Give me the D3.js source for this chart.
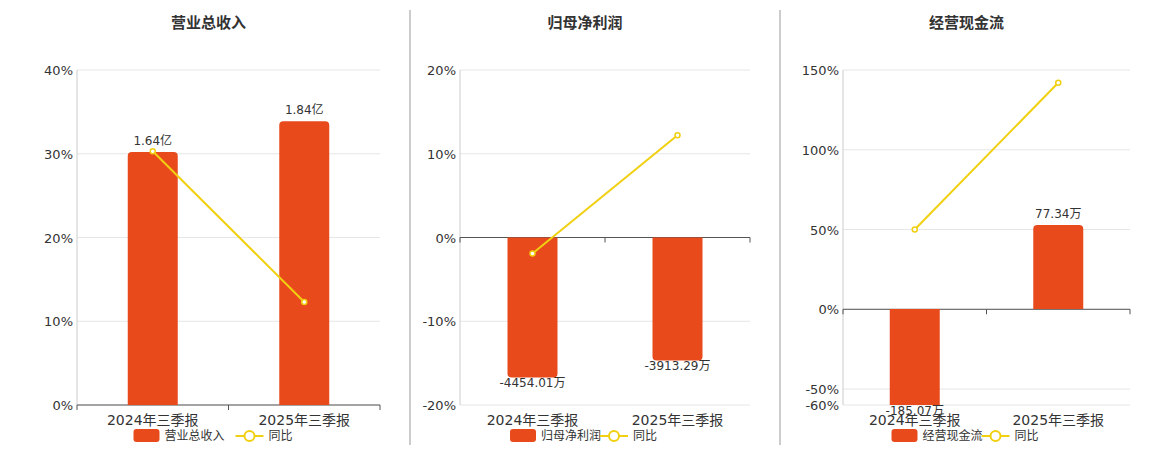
<!DOCTYPE html>
<html><head><meta charset="utf-8">
<script src="https://cdn.jsdelivr.net/npm/d3@7"></script>
<style>body{margin:0;background:#fff;font-family:"DejaVu Sans","Noto Sans CJK SC",sans-serif}</style>
</head><body><svg id="c" width="1160" height="450"></svg>
<script>
const categories = ["2024年三季报", "2025年三季报"];
const titles = ["营业总收入", "归母净利润", "经营现金流"];
const barNames = ["营业总收入", "归母净利润", "经营现金流"];
const revenue = [1.64, 1.84];
const revenueLabels = ["1.64亿", "1.84亿"];
const profit = [-4454.01, -3913.29];
const profitLabels = ["-4454.01万", "-3913.29万"];
const cash = [-185.07, 77.34];
const cashLabels = ["-185.07万", "77.34万"];
const yoyRevenue = [30.3, 12.3];
const yoyProfit = [-1.9, 12.2];
const yoyCash = [50, 142];
const ticks1 = [0, 10, 20, 30, 40];
const ticks2 = [-20, -10, 0, 10, 20];
const ticks3 = [-60, -50, 0, 50, 100, 150];

const panels = [
  {x0:77,x1:380,pct:[0,40],ticks:ticks1,bars:revenue,bl:revenueLabels,bd:[0,2.172],yoy:yoyRevenue},
  {x0:460,x1:750,pct:[-20,20],ticks:ticks2,bars:profit,bl:profitLabels,bd:[-5333,5333],yoy:yoyProfit},
  {x0:843,x1:1130,pct:[-60,150],ticks:ticks3,bars:cash,bl:cashLabels,bd:[-77.34*96/84,77.34*239/84],yoy:yoyCash}
];
const svg = d3.select("#c");
const yTop=70,yBot=405,barC="#e84a1c",lineC="#f0d010";
[410,780].forEach(x=>svg.append("line").attr("x1",x).attr("x2",x).attr("y1",10).attr("y2",445).attr("stroke","#999"));
panels.forEach((p,i)=>{
  const g=svg.append("g");
  const x=d3.scaleBand().domain(categories).range([p.x0,p.x1]);
  const y=d3.scaleLinear().domain(p.pct).range([yBot,yTop]);
  const yb=d3.scaleLinear().domain(p.bd).range([yBot,yTop]);
  const cx=(p.x0+p.x1)/2;
  g.append("text").attr("x",cx-20).attr("y",28).attr("text-anchor","middle").attr("font-size",15).attr("font-weight","bold").attr("fill","#333").text(titles[i]);
  p.ticks.forEach(t=>{
    g.append("line").attr("x1",p.x0).attr("x2",p.x1).attr("y1",y(t)).attr("y2",y(t)).attr("stroke","#e6e6e6");
    g.append("text").attr("x",p.x0-4).attr("y",y(t)+5).attr("text-anchor","end").attr("font-size",13).attr("fill","#333").text(t+"%");
  });
  g.append("line").attr("x1",p.x0).attr("x2",p.x0).attr("y1",yTop).attr("y2",yBot).attr("stroke","#ccc");
  const z=y(Math.max(0,p.pct[0]));
  g.append("line").attr("x1",p.x0).attr("x2",p.x1).attr("y1",z).attr("y2",z).attr("stroke","#555");
  [p.x0,cx,p.x1].forEach(t=>g.append("line").attr("x1",t).attr("x2",t).attr("y1",z).attr("y2",z+5).attr("stroke","#555"));
  categories.forEach(c=>g.append("text").attr("x",x(c)+x.bandwidth()/2).attr("y",425).attr("text-anchor","middle").attr("font-size",14).attr("fill","#333").text(c));
  const clip="clip"+i;
  svg.append("clipPath").attr("id",clip).append("rect").attr("x",p.x0).attr("y",yTop).attr("width",p.x1-p.x0).attr("height",yBot-yTop);
  const bw=50,r=4;
  p.bars.forEach((v,j)=>{
    const bx=x(categories[j])+x.bandwidth()/2-bw/2;
    const y0=yb(0),y1=yb(v);
    let d;
    if(v>=0) d=`M${bx},${y0}V${y1+r}Q${bx},${y1} ${bx+r},${y1}H${bx+bw-r}Q${bx+bw},${y1} ${bx+bw},${y1+r}V${y0}Z`;
    else d=`M${bx},${y0}V${y1-r}Q${bx},${y1} ${bx+r},${y1}H${bx+bw-r}Q${bx+bw},${y1} ${bx+bw},${y1-r}V${y0}Z`;
    g.append("path").attr("d",d).attr("fill",barC).attr("clip-path",`url(#${clip})`);
    const ly=v>=0?y1-7:Math.min(y1,yBot)+10;
    g.append("text").attr("x",bx+bw/2).attr("y",ly).attr("text-anchor","middle").attr("font-size",12).attr("fill","#333").text(p.bl[j]);
  });
  const pts=p.yoy.map((v,j)=>[x(categories[j])+x.bandwidth()/2,y(v)]);
  g.append("path").attr("d",d3.line()(pts)).attr("stroke",lineC).attr("stroke-width",2).attr("fill","none");
  pts.forEach(q=>g.append("circle").attr("cx",q[0]).attr("cy",q[1]).attr("r",2.5).attr("fill","#fff").attr("stroke",lineC).attr("stroke-width",1.5));
  const lx=cx-95;
  g.append("rect").attr("x",lx).attr("y",429).attr("width",26).attr("height",13).attr("rx",3).attr("fill",barC);
  g.append("text").attr("x",lx+31).attr("y",440).attr("font-size",12).attr("fill","#333").text(barNames[i]);
  const l2=lx+102+(i==0?0:-12);
  g.append("line").attr("x1",l2).attr("x2",l2+28).attr("y1",436).attr("y2",436).attr("stroke",lineC).attr("stroke-width",2);
  g.append("circle").attr("cx",l2+14).attr("cy",436).attr("r",5).attr("fill","#fff").attr("stroke",lineC).attr("stroke-width",2);
  g.append("text").attr("x",l2+33).attr("y",440).attr("font-size",12).attr("fill","#333").text("同比");
});
</script></body></html>
